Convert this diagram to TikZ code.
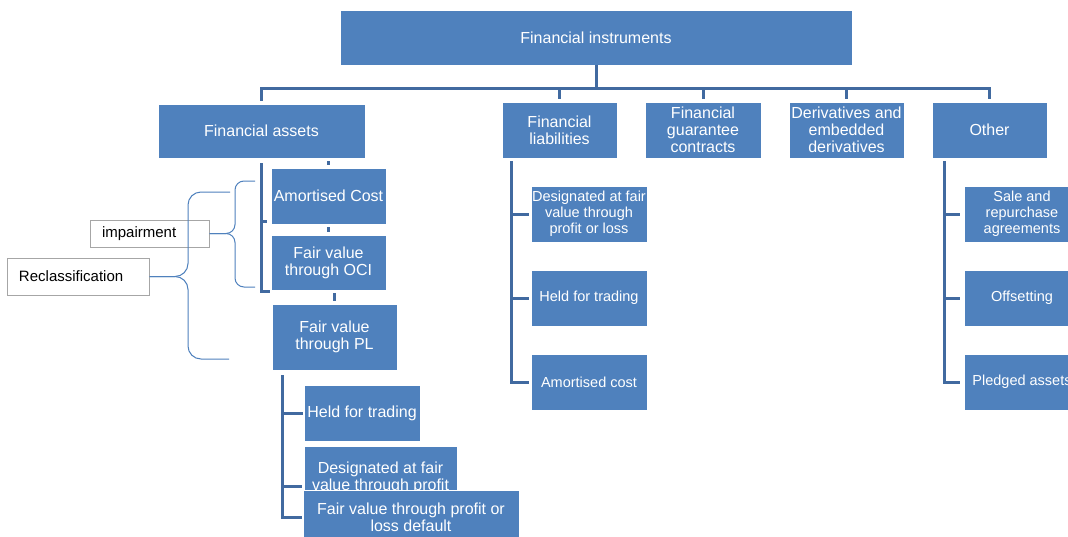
\documentclass[tikz,border=0pt]{standalone}
\usepackage{fontspec}
\setmainfont{Liberation Sans}
\usetikzlibrary{calc}
\definecolor{boxblue}{HTML}{4F81BD}
\definecolor{connblue}{RGB}{65,106,160}
\definecolor{graybd}{HTML}{A6A6A6}
\begin{document}
\begin{tikzpicture}[x=1pt,y=-1pt,
 box/.style={rectangle, fill=boxblue, draw=white, line width=0.8pt, text=white, align=center, inner sep=0pt, font=\fontsize{16}{17}\selectfont},
 sbox/.style={box, font=\fontsize{14.5}{16}\selectfont, minimum width=116pt, minimum height=56pt},
 conn/.style={draw=connblue, line width=3pt},
 brace/.style={draw=boxblue, line width=1pt},
 lbl/.style={rectangle, draw=graybd, fill=white, line width=1pt, text=black, align=left, inner ysep=0pt, inner xsep=12pt, font=\fontsize{15}{17}\selectfont}]
\clip (0,0) rectangle (1068,536);
\fill[white] (0,0) rectangle (1068,536);

% top level
\node[box, minimum width=512pt, minimum height=55pt] (fi) at (596,37.5) {Financial instruments};
\node[box, minimum width=207pt, minimum height=54pt] (fa) at (261.5,131) {Financial assets};
\node[box, minimum width=115pt, minimum height=56pt] (fl) at (559.5,130) {Financial\\liabilities};
\node[box, minimum width=116pt, minimum height=56pt] (fg) at (703,130) {Financial\\guarantee\\contracts};
\node[box, minimum width=115pt, minimum height=56pt] (dv) at (846.5,130) {Derivatives and\\embedded\\derivatives};
\node[box, minimum width=115pt, minimum height=56pt] (ot) at (989.5,130) {Other};

% financial assets branch
\node[box, minimum width=115pt, minimum height=56pt] (ac) at (328.5,196) {Amortised Cost};
\node[box, minimum width=115pt, minimum height=55pt] (oci) at (328.5,262.5) {Fair value\\through OCI};
\node[box, minimum width=125pt, minimum height=66pt] (pl) at (334.5,337) {Fair value\\through PL};
\node[box, minimum width=116pt, minimum height=56pt] (hft) at (362,413) {Held for trading};
\node[box, minimum width=153pt, minimum height=64pt] (des) at (380.5,478) {Designated at fair\\value through profit};
\node[box, minimum width=216pt, minimum height=54pt] (def) at (411,517) {Fair value through profit or\\loss default};

% liabilities and other
\node[sbox] (l1) at (589,214) {Designated at fair\\value through\\profit or loss};
\node[sbox] (l2) at (589,298) {Held for trading};
\node[sbox] (l3) at (589,382) {Amortised cost};
\node[sbox] (o1) at (1022,214) {Sale and\\repurchase\\agreements};
\node[sbox] (o2) at (1022,298) {Offsetting};
\node[sbox] (o3) at (1022,382) {Pledged assets};

% labels
\node[lbl, text width=95pt, minimum height=27pt] (imp) at (149.5,233.5) {impairment};
\node[lbl, text width=118pt, minimum height=37pt] (rec) at (78,276.5) {Reclassification};

% top connectors
\coordinate (hub) at ($(fi.south)+(0,23)$);
\draw[conn] (fi.south) -- (hub);
\foreach \n in {fa,fl,fg,dv,ot} \draw[conn, shorten >=3pt] (hub) -| (\n.north);

% financial assets connectors
\draw[conn, shorten <=3pt, shorten >=3pt] (ac.north) -- (ac.north |- fa.south);
\draw[conn, shorten <=3pt, shorten >=3pt] (ac.south) -- (oci.north);
\draw[conn, shorten <=3pt, shorten >=3pt] (pl.north) -- (pl.north |- oci.south);
\coordinate (fav) at ($(fa.south)+(0,5)$);
\draw[conn] (fav) |- ($(oci.south west)+(-1,1)$);
\draw[conn] ($(fav |- ac.south)+(0,-3)$) -- ++(5,0);

% FVPL children
\coordinate (plv) at ($(pl.south west)+(11,5)$);
\draw[conn, shorten >=1pt] (plv) |- (def.west);
\draw[conn, shorten >=1pt] (plv |- hft.west) -- (hft.west);
\draw[conn] ($(plv |- def.north)+(0,-3)$) -- ++(19,0);

% liabilities children
\coordinate (flv) at ($(fl.south west)+(10,3)$);
\draw[conn, shorten >=2pt] (flv) |- (l3.west);
\draw[conn, shorten >=2pt] (flv |- l1.west) -- (l1.west);
\draw[conn, shorten >=2pt] (flv |- l2.west) -- (l2.west);

% other children
\coordinate (otv) at ($(ot.south west)+(13,3)$);
\draw[conn, shorten >=4pt] (otv) |- (o3.west);
\draw[conn, shorten >=4pt] (otv |- o1.west) -- (o1.west);
\draw[conn, shorten >=4pt] (otv |- o2.west) -- (o2.west);

% braces
\draw[brace, rounded corners=9pt] (255,181) -- (235,181) -- (imp.east -| 235,0) -- (imp.east);
\draw[brace, rounded corners=9pt] (imp.east) -- (imp.east -| 235,0) -- (235,287) -- (255,287);
\draw[brace, rounded corners=13pt] (230,192) -- (188,192) -- (rec.east -| 188,0) -- (rec.east);
\draw[brace, rounded corners=13pt] (rec.east) -- (rec.east -| 188,0) -- (188,359) -- (229,359);
\end{tikzpicture}
\end{document}
